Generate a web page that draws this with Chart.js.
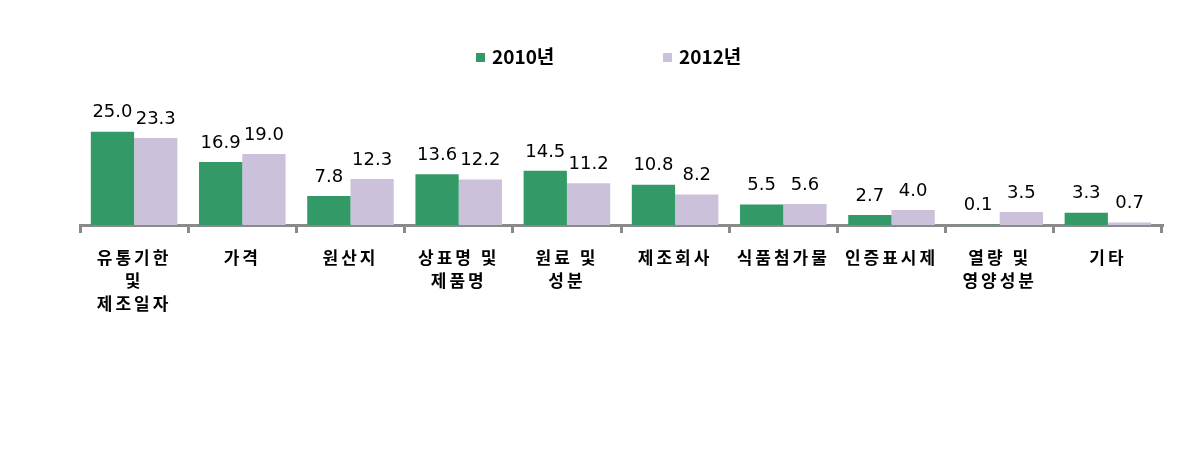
<!DOCTYPE html>
<html>
<head>
<meta charset="utf-8">
<script src="https://cdn.jsdelivr.net/npm/chart.js@4"></script>
<style>
  html, body { margin:0; padding:0; background:#fff; }
  #wrap { width:1203px; height:455px; position:relative; }
</style>
</head>
<body>
<div id="wrap"><canvas id="chart"></canvas></div>
<script>
/* DATA */

const categories = [
  ["유통기한","및","제조일자"],
  ["가격"],
  ["원산지"],
  ["상표명 및","제품명"],
  ["원료 및","성분"],
  ["제조회사"],
  ["식품첨가물"],
  ["인증표시제"],
  ["열량 및","영양성분"],
  ["기타"]
];

const seriesNames = ["2010년","2012년"];

const values2010 = [25.0, 16.9, 7.8, 13.6, 14.5, 10.8, 5.5, 2.7, 0.1, 3.3];

const values2012 = [23.3, 19.0, 12.3, 12.2, 11.2, 8.2, 5.6, 4.0, 3.5, 0.7];

/* STYLE */

const GREEN = "#339966";
const LAVENDER = "#CCC1DA";
const AXIS = "#8A8A8A";

/* PLUGINS */

// wider letter spacing for the category labels
const spacing = {
  id:"spacing",
  beforeDraw(chart){
    chart.ctx.letterSpacing = "3px";
  },
  beforeDatasetsDraw(chart){
    chart.ctx.letterSpacing = "0px";
  }
};

// numbers above bars
const valueLabels = {
  id:"valueLabels",
  afterDatasetsDraw(chart){
    const ctx = chart.ctx;
    ctx.save();
    ctx.letterSpacing = "0px";
    ctx.font = "18px 'DejaVu Sans'";
    ctx.fillStyle = "#000";
    ctx.textAlign = "center";
    ctx.textBaseline = "middle";
    chart.data.datasets.forEach((ds,i)=>{
      const meta = chart.getDatasetMeta(i);
      meta.data.forEach((bar,j)=>{
        ctx.fillText(ds.data[j].toFixed(1), bar.x, bar.y - 19);
      });
    });
    ctx.restore();
  }
};

// legend drawn by hand (wide gap between items)
const legendBox = {
  id:"legendBox",
  afterDraw(chart){
    const ctx = chart.ctx;
    const items = [
      {x:476, color:GREEN, text:seriesNames[0]},
      {x:663, color:LAVENDER, text:seriesNames[1]}
    ];
    ctx.save();
    ctx.letterSpacing = "0px";
    ctx.font = "bold 19px 'Noto Sans CJK KR'";
    ctx.textBaseline = "middle";
    ctx.textAlign = "left";
    items.forEach(it=>{
      ctx.fillStyle = it.color;
      ctx.fillRect(it.x, 53, 9, 9);
      ctx.fillStyle = "#000";
      ctx.fillText(it.text, it.x + 16, 57);
    });
    ctx.restore();
  }
};

/* CHART */

new Chart(document.getElementById("chart"),{

  type:"bar",

  data:{
    labels:categories,
    datasets:[
      {
        label:seriesNames[0],
        data:values2010,
        backgroundColor:GREEN,
        categoryPercentage:0.8,
        barPercentage:1.0
      },
      {
        label:seriesNames[1],
        data:values2012,
        backgroundColor:LAVENDER,
        categoryPercentage:0.8,
        barPercentage:1.0
      }
    ]
  },

  options:{
    responsive:true,
    maintainAspectRatio:false,
    animation:false,
    layout:{
      padding:{ top:113, left:80, right:41, bottom:0 }
    },
    plugins:{
      legend:{ display:false },
      tooltip:{ enabled:false }
    },
    scales:{
      x:{
        afterFit(scale){ scale.height = 230; },
        border:{ color:AXIS, width:3 },
        grid:{
          drawOnChartArea:false,
          color:AXIS,
          lineWidth:3,
          tickLength:8
        },
        ticks:{
          autoSkip:false,
          maxRotation:0,
          padding:13,
          color:"#000",
          font:{ family:"'Noto Sans CJK KR'", size:17, weight:"bold", lineHeight:1.35 }
        }
      },
      y:{
        display:false,
        min:0,
        max:30
      }
    }
  },

  plugins:[spacing, valueLabels, legendBox]

});
</script>
</body>
</html>
